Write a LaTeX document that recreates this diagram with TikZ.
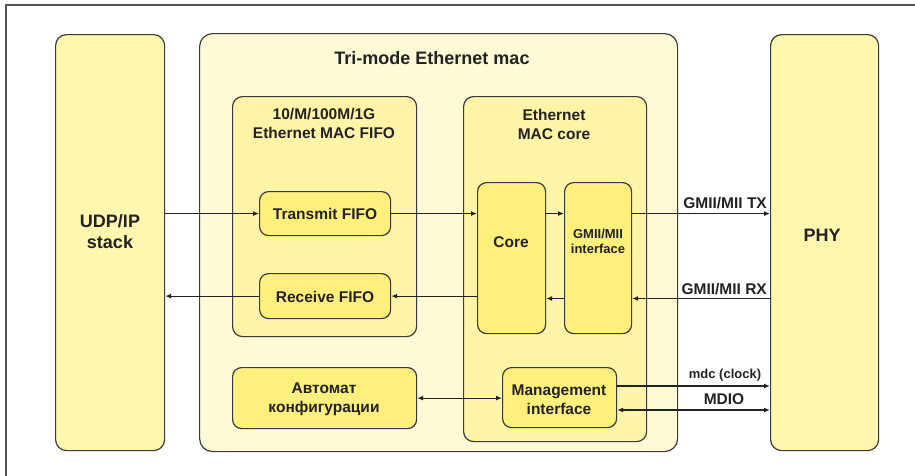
\documentclass[tikz,border=0pt]{standalone}
\usepackage{fontspec}
\setmainfont{Liberation Sans}
\usetikzlibrary{arrows.meta}
\definecolor{outerfill}{HTML}{FFF6B0}
\definecolor{macfill}{HTML}{FFFAD6}
\definecolor{groupfill}{HTML}{FFF4A8}
\definecolor{innerfill}{HTML}{FFF07E}
\definecolor{edge}{HTML}{3A3A3A}
\definecolor{txt}{HTML}{222222}
\definecolor{framec}{HTML}{555555}
\begin{document}
\begin{tikzpicture}[x=1pt,y=-1pt,
  box/.style={draw=edge, line width=1.2pt, inner sep=0pt, anchor=north west},
  bigbox/.style={box, rounded corners=11pt, fill=outerfill},
  macbox/.style={box, rounded corners=13pt, fill=macfill},
  grpbox/.style={box, rounded corners=10pt, fill=groupfill},
  inbox/.style={box, rounded corners=9pt, fill=innerfill},
  lbl/.style={font=\fontsize{15.5}{18.5}\selectfont\bfseries, text=txt, inner sep=0pt, align=center, anchor=base},
  biglbl/.style={font=\fontsize{18}{21}\selectfont\bfseries, text=txt, inner sep=0pt, align=center, anchor=base},
  smlbl/.style={font=\fontsize{13}{14.5}\selectfont\bfseries, text=txt, inner sep=0pt, align=center, anchor=base},
  arr/.style={draw=txt, line width=1.2pt, -{Latex[length=6pt,width=5pt]}},
  darr/.style={draw=txt, line width=1.2pt, {Latex[length=6pt,width=5pt]}-{Latex[length=6pt,width=5pt]}}
]
\useasboundingbox (0,0) rectangle (915,475);
% frame
\draw[framec, line width=1.5pt] (920,5) -- (6,5) -- (6,480);

% boxes
\node[bigbox, minimum width=109pt, minimum height=416pt] (udp) at (55,34) {};
\node[bigbox, minimum width=108pt, minimum height=416pt] (phy) at (770,34) {};
\node[macbox, minimum width=478pt, minimum height=418pt] (mac) at (199,33) {};
\node[grpbox, minimum width=184pt, minimum height=240pt] (fifo) at (232,96) {};
\node[grpbox, minimum width=183pt, minimum height=345pt] (core grp) at (463,96) {};
\node[inbox, minimum width=131pt, minimum height=44pt] (tx) at (259,191) {};
\node[inbox, minimum width=131pt, minimum height=45pt] (rx) at (259,273) {};
\node[inbox, minimum width=68pt, minimum height=151pt] (core) at (477,182) {};
\node[inbox, minimum width=67pt, minimum height=151pt] (gmii) at (564,182) {};
\node[inbox, minimum width=184pt, minimum height=61pt] (avt) at (232,367) {};
\node[inbox, minimum width=114pt, minimum height=60pt] (mgmt) at (502,367) {};

% labels (multi-line: base = last line's baseline)
\node[biglbl] (udp text) at (110,248) {UDP/IP\\stack};
\node[biglbl] (phy text) at (822,241) {PHY};
\node[biglbl] (mac text) at (432,64) {Tri-mode Ethernet mac};
\node[lbl] (fifo text) at (324,138) {10/M/100M/1G\\Ethernet MAC FIFO};
\node[lbl] (core grp text) at (554,139) {Ethernet\\MAC core};
\node[lbl] (tx text) at (325,219) {Transmit FIFO};
\node[lbl] (rx text) at (325,302) {Receive FIFO};
\node[lbl] (core text) at (511,247) {Core};
\node[smlbl] (gmii text) at (598,253) {GMII/MII\\interface};
\node[lbl] (avt text) at (324,412) {Автомат\\конфигурации};
\node[lbl] (mgmt text) at (559,414) {Management\\interface};

% helper coordinates
\coordinate (rxline) at (0,298.5);
\coordinate (mdcline) at (0,386);
\coordinate (mdioline) at (0,410);

% connectors
\draw[arr] (udp.east |- tx) -- (tx.west);
\draw[arr] (tx.east) -- (core.west |- tx);
\draw[arr] (core.east |- tx) -- (gmii.west |- tx);
\draw[arr] (gmii.east |- tx) -- (phy.west |- tx);
\draw[arr] (phy.west |- rxline) -- (gmii.east |- rxline);
\draw[arr] (gmii.west |- rxline) -- (core.east |- rxline);
\draw[arr] (core.west |- rx) -- (rx.east);
\draw[arr] (rx.west) -- (udp.east |- rx);
\draw[darr] (avt.east) -- (mgmt.west |- avt);
\draw[arr] (mgmt.east |- mdcline) -- (phy.west |- mdcline);
\draw[darr] (mgmt.east |- mdioline) -- (phy.west |- mdioline);

% connector labels
\node[lbl, anchor=base east] (txlbl) at (767,208) {GMII/MII TX};
\node[lbl, anchor=base east] (rxlbl) at (767,294) {GMII/MII RX};
\node[smlbl] (mdclbl) at (725,378) {mdc (clock)};
\node[lbl] (mdiolbl) at (724,404) {MDIO};
\end{tikzpicture}
\end{document}
